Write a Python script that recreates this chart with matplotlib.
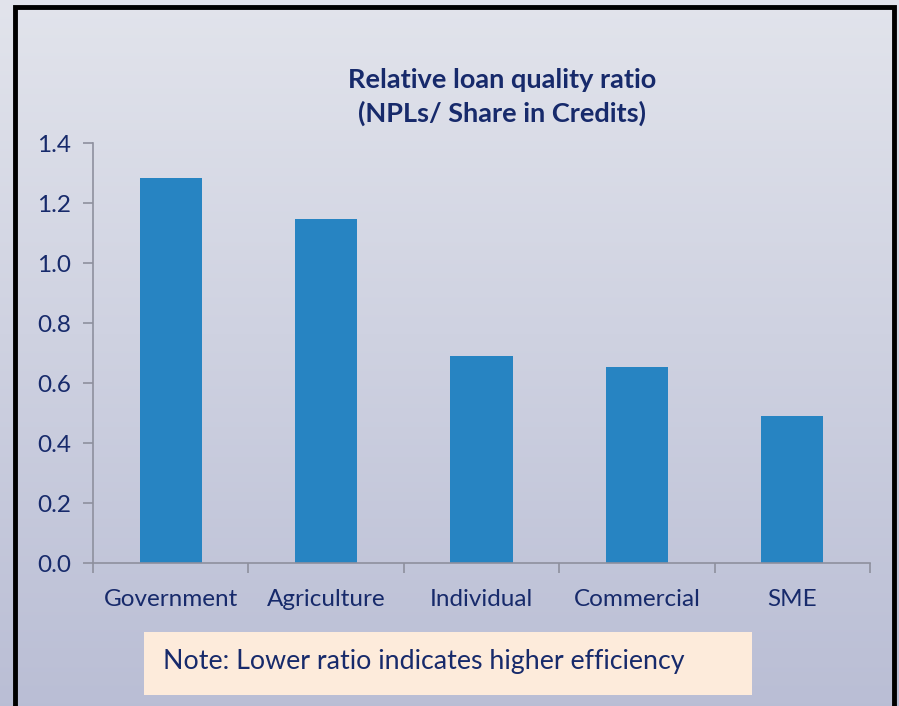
import numpy as np
import matplotlib
matplotlib.use("Agg")
import matplotlib.pyplot as plt
from matplotlib.patches import Rectangle

# data
categories = ["Government", "Agriculture", "Individual", "Commercial", "SME"]
ratios = [1.283, 1.147, 0.69, 0.653, 0.49]
yticks = [0.0, 0.2, 0.4, 0.6, 0.8, 1.0, 1.2, 1.4]

navy = "#172A6B"
bar_col = "#2784C2"
axis_col = "#8E909E"

plt.rcParams["font.family"] = ["Lato", "DejaVu Sans"]

fig = plt.figure(figsize=(8.99, 7.06), dpi=100)

# background gradient (light top -> bluish grey bottom)
bg = fig.add_axes([0, 0, 1, 1], zorder=-10)
top = np.array([0.886, 0.894, 0.925])
bot = np.array([0.729, 0.745, 0.835])
t = np.linspace(0, 1, 256)[:, None]
grad = top * (1 - t) + bot * t
bg.imshow(grad[:, None, :], aspect="auto", extent=[0, 1, 0, 1])
bg.set_axis_off()

# black frame
fig.patches.append(Rectangle((15 / 899, -0.05), 879 / 899, 1 - 7 / 706 + 0.05,
                             transform=fig.transFigure, fill=False,
                             edgecolor="black", linewidth=3.5))

ax = fig.add_axes([93 / 899, 1 - 563 / 706, 777 / 899, 420 / 706])
ax.patch.set_alpha(0)
x = np.arange(len(categories))
ax.bar(x, ratios, width=0.4, color=bar_col)

ax.set_xlim(-0.5, len(categories) - 0.5)
ax.set_ylim(0, 1.4)
ax.set_yticks(yticks)
ax.set_yticklabels([f"{v:.1f}" for v in yticks])
ax.set_xticks(x)
ax.set_xticklabels(categories)
ax.set_xticks(np.arange(len(categories) + 1) - 0.5, minor=True)
ax.tick_params(axis="x", which="major", length=0, pad=19)
ax.tick_params(axis="x", which="minor", length=7, color=axis_col, width=1.2, direction="out")
ax.tick_params(axis="y", length=7, color=axis_col, width=1.2, pad=9)
ax.tick_params(labelsize=17.5, labelcolor=navy)

for s in ["top", "right"]:
    ax.spines[s].set_visible(False)
for s in ["left", "bottom"]:
    ax.spines[s].set_color(axis_col)
    ax.spines[s].set_linewidth(1.2)

fig.text(502 / 899, 1 - 97 / 706, "Relative loan quality ratio\n(NPLs/ Share in Credits)",
         ha="center", va="center", fontsize=19.5, fontweight="bold", color=navy,
         linespacing=1.45)

# note box
fig.patches.append(Rectangle((144 / 899, 1 - 695 / 706), 608 / 899, 63 / 706,
                             transform=fig.transFigure, facecolor="#FDEBDB",
                             edgecolor="none"))
fig.text(163 / 899, 1 - 661 / 706, "Note: Lower ratio indicates higher efficiency",
         ha="left", va="center", fontsize=19.3, color=navy)

fig.savefig("out.png", dpi=100)
